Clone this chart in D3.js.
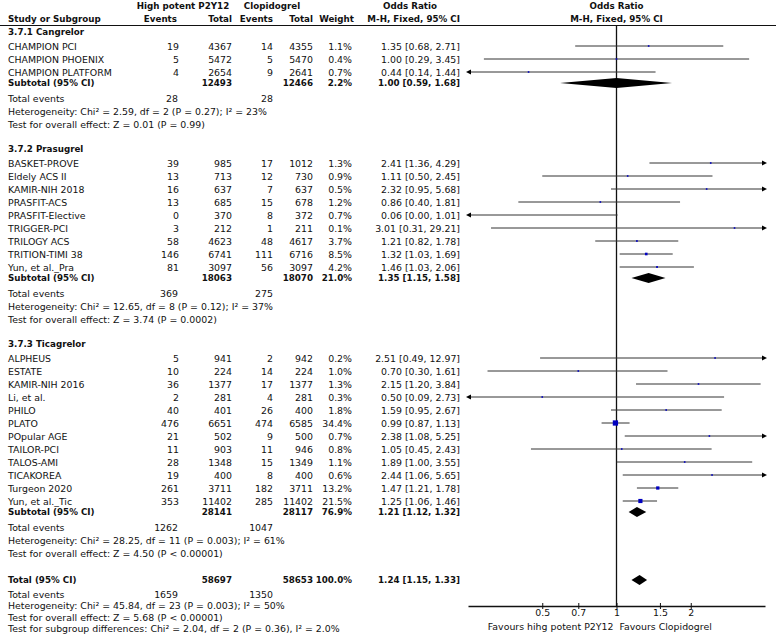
<!DOCTYPE html>
<html><head><meta charset="utf-8">
<script src="https://cdn.jsdelivr.net/npm/d3@7"></script>
<style>
body{margin:0;background:#fff}
svg{display:block}
text{font-family:"DejaVu Sans",sans-serif;font-size:9.4px;fill:#111}
.b{font-weight:bold}
</style>
</head><body>
<svg id="chart" width="776" height="639"></svg>
<script>
// ---------- data ----------
const groupTitles = ["3.7.1 Cangrelor", "3.7.2 Prasugrel", "3.7.3 Ticagrelor"];

const studyNames = ["CHAMPION PCI","CHAMPION PHOENIX","CHAMPION PLATFORM",
  "BASKET-PROVE","Eldely ACS II","KAMIR-NIH 2018","PRASFIT-ACS","PRASFIT-Elective","TRIGGER-PCI","TRILOGY ACS","TRITION-TIMI 38","Yun, et al._Pra",
  "ALPHEUS","ESTATE","KAMIR-NIH 2016","Li, et al.","PHILO","PLATO","POpular AGE","TAILOR-PCI","TALOS-AMI","TICAKOREA","Turgeon 2020","Yun, et al._Tic"];
const studyGroup = [0,0,0, 1,1,1,1,1,1,1,1,1, 2,2,2,2,2,2,2,2,2,2,2,2];
const expEvents  = [19,5,4, 39,13,16,13,0,3,58,146,81, 5,10,36,2,40,476,21,11,28,19,261,353];
const expTotal   = [4367,5472,2654, 985,713,637,685,370,212,4623,6741,3097, 941,224,1377,281,401,6651,502,903,1348,400,3711,11402];
const ctrlEvents = [14,5,9, 17,12,7,15,8,1,48,111,56, 2,14,17,4,26,474,9,11,15,8,182,285];
const ctrlTotal  = [4355,5470,2641, 1012,730,637,678,372,211,4617,6716,3097, 942,224,1377,281,400,6585,500,946,1349,400,3711,11402];
const weights    = [1.1,0.4,0.7, 1.3,0.9,0.5,1.2,0.7,0.1,3.7,8.5,4.2, 0.2,1.0,1.3,0.3,1.8,34.4,0.7,0.8,1.1,0.6,13.2,21.5];
const oddsRatio  = [1.35,1.00,0.44, 2.41,1.11,2.32,0.86,0.06,3.01,1.21,1.32,1.46, 2.51,0.70,2.15,0.50,1.59,0.99,2.38,1.05,1.89,2.44,1.47,1.25];
const ciLow      = [0.68,0.29,0.14, 1.36,0.50,0.95,0.40,0.00,0.31,0.82,1.03,1.03, 0.49,0.30,1.20,0.09,0.95,0.87,1.08,0.45,1.00,1.06,1.21,1.06];
const ciHigh     = [2.71,3.45,1.44, 4.29,2.45,5.68,1.81,1.01,29.21,1.78,1.69,2.06, 12.97,1.61,3.84,2.73,2.67,1.13,5.25,2.43,3.55,5.65,1.78,1.46];

const subExpTotal   = [12493, 18063, 28141];
const subCtrlTotal  = [12466, 18070, 28117];
const subWeight     = [2.2, 21.0, 76.9];
const subOR         = [1.00, 1.35, 1.21];
const subLow        = [0.59, 1.15, 1.12];
const subHigh       = [1.68, 1.58, 1.32];
const subExpEvents  = [28, 369, 1262];
const subCtrlEvents = [28, 275, 1047];
const subHet = ["Heterogeneity: Chi² = 2.59, df = 2 (P = 0.27); I² = 23%",
                "Heterogeneity: Chi² = 12.65, df = 8 (P = 0.12); I² = 37%",
                "Heterogeneity: Chi² = 28.25, df = 11 (P = 0.003); I² = 61%"];
const subEffect = ["Test for overall effect: Z = 0.01 (P = 0.99)",
                   "Test for overall effect: Z = 3.74 (P = 0.0002)",
                   "Test for overall effect: Z = 4.50 (P < 0.00001)"];

const totalValues = {expTotal:58697, ctrlTotal:58653, weight:100.0, or:1.24, lo:1.15, hi:1.33, expEvents:1659, ctrlEvents:1350};
const totalHet = "Heterogeneity: Chi² = 45.84, df = 23 (P = 0.003); I² = 50%";
const totalEffect = "Test for overall effect: Z = 5.68 (P < 0.00001)";
const subgroupDiff = "Test for subgroup differences: Chi² = 2.04, df = 2 (P = 0.36), I² = 2.0%";

const axisTicks = [0.5, 0.7, 1, 1.5, 2];
const axisDomain = [0.25, 4];
const favourLeft = "Favours hihg potent P2Y12";
const favourRight = "Favours Clopidogrel";

// ---------- layout ----------
const svg = d3.select("#chart");
const W = 776, H = 639;
const x = d3.scaleLog().domain(axisDomain).range([468, 765]);
const colX = {name:8, expEv:179, expTot:232, ctrlEv:273, ctrlTot:313, weight:352, orText:460};
const axisY = 606;
const boldScale = 0.93;

const gaps = {"test>group":25,"group>study":14,"study>study":13,"study>subtotal":11,"subtotal>events":15,
  "events>het":13,"het>test":13,"test>total":27,"total>oevents":14.5,"oevents>ohet":11.3,"ohet>otest":11.2,"otest>subgroup":11};
const rows = [];
let yCur = 32, prev = null;
function add(type, d){ if(prev) yCur += gaps[prev+">"+type]; rows.push(Object.assign({type, y:yCur}, d)); prev = type; }
groupTitles.forEach((g, gi) => {
  add("group", {label:g});
  studyNames.forEach((s, i) => { if (studyGroup[i] === gi) add("study", {i}); });
  add("subtotal", {gi});
  add("events", {gi});
  add("het", {gi});
  add("test", {gi});
});
add("total", {});
add("oevents", {});
add("ohet", {});
add("otest", {});
add("subgroup", {});

const fmtOR = (o,l,h) => `${o.toFixed(2)} [${l.toFixed(2)}, ${h.toFixed(2)}]`;
const gT = svg.append("g");
function txt(xp, yp, s, anchor, bold){
  if (bold) {
    gT.append("g").attr("transform", `translate(${xp},${yp}) scale(${boldScale},1)`)
      .append("text").attr("x",0).attr("y",0).attr("dominant-baseline","central")
      .attr("text-anchor", anchor||"start").attr("class","b").text(s);
  } else {
    gT.append("text").attr("x", xp).attr("y", yp).attr("dominant-baseline","central")
      .attr("text-anchor", anchor||"start").text(s);
  }
}

// headers
txt(183, 5.5, "High potent P2Y12", "middle", true);
txt(272, 5.5, "Clopidogrel", "middle", true);
txt(410, 5.5, "Odds Ratio", "middle", true);
txt(x(1), 5.5, "Odds Ratio", "middle", true);
txt(colX.name, 19, "Study or Subgroup", "start", true);
txt(colX.expEv-2, 19, "Events", "end", true);
txt(colX.expTot, 19, "Total", "end", true);
txt(colX.ctrlEv, 19, "Events", "end", true);
txt(colX.ctrlTot, 19, "Total", "end", true);
txt(colX.weight+2, 19, "Weight", "end", true);
txt(colX.orText, 19, "M-H, Fixed, 95% CI", "end", true);
txt(x(1), 19, "M-H, Fixed, 95% CI", "middle", true);

svg.append("line").attr("x1",0).attr("x2",W).attr("y1",25.5).attr("y2",25.5).attr("stroke","#111").attr("stroke-width",1);

// null line
svg.append("line").attr("x1",x(1)).attr("x2",x(1)).attr("y1",25.5).attr("y2",axisY).attr("stroke","#111").attr("stroke-width",1.3);

const gM = svg.append("g");
function diamond(o,l,h,y){
  const pts = [[x(l),y],[x(o),y-5],[x(h),y],[x(o),y+5]];
  gM.append("path").attr("d","M"+pts.join("L")+"Z").attr("fill","#000");
}
const [xmin, xmax] = x.range();

rows.forEach(r => {
  const y = r.y;
  switch(r.type){
    case "group": txt(colX.name, y, r.label, "start", true); break;
    case "study": {
      const i = r.i;
      txt(colX.name, y, studyNames[i]);
      txt(colX.expEv, y, expEvents[i], "end");
      txt(colX.expTot, y, expTotal[i], "end");
      txt(colX.ctrlEv, y, ctrlEvents[i], "end");
      txt(colX.ctrlTot, y, ctrlTotal[i], "end");
      txt(colX.weight, y, weights[i].toFixed(1)+"%", "end");
      txt(colX.orText, y, fmtOR(oddsRatio[i], ciLow[i], ciHigh[i]), "end");
      const lo = ciLow[i] < axisDomain[0] ? xmin : x(ciLow[i]);
      const hi = ciHigh[i] > axisDomain[1] ? xmax : x(ciHigh[i]);
      gM.append("line").attr("x1",lo).attr("x2",hi).attr("y1",y).attr("y2",y).attr("stroke","#333").attr("stroke-width",1);
      if (ciLow[i] < axisDomain[0]) gM.append("path").attr("d",`M${xmin-2},${y}L${xmin+3},${y-2.5}L${xmin+3},${y+2.5}Z`).attr("fill","#000");
      if (ciHigh[i] > axisDomain[1]) gM.append("path").attr("d",`M${xmax+2},${y}L${xmax-3},${y-2.5}L${xmax-3},${y+2.5}Z`).attr("fill","#000");
      if (oddsRatio[i] >= axisDomain[0] && oddsRatio[i] <= axisDomain[1]) {
        const s = Math.max(1.6, 0.9*Math.sqrt(weights[i]));
        gM.append("rect").attr("x",x(oddsRatio[i])-s/2).attr("y",y-s/2).attr("width",s).attr("height",s).attr("fill","#0000c0");
      }
      break;
    }
    case "subtotal": {
      const g = r.gi;
      txt(colX.name, y, "Subtotal (95% CI)", "start", true);
      txt(colX.expTot, y, subExpTotal[g], "end", true);
      txt(colX.ctrlTot, y, subCtrlTotal[g], "end", true);
      txt(colX.weight, y, subWeight[g].toFixed(1)+"%", "end", true);
      txt(colX.orText, y, fmtOR(subOR[g], subLow[g], subHigh[g]), "end", true);
      diamond(subOR[g], subLow[g], subHigh[g], y);
      break;
    }
    case "events":
      txt(colX.name, y, "Total events");
      txt(colX.expEv-1, y, subExpEvents[r.gi], "end");
      txt(colX.ctrlEv, y, subCtrlEvents[r.gi], "end");
      break;
    case "het": txt(colX.name, y, subHet[r.gi]); break;
    case "test": txt(colX.name, y, subEffect[r.gi]); break;
    case "total":
      txt(colX.name, y, "Total (95% CI)", "start", true);
      txt(colX.expTot, y, totalValues.expTotal, "end", true);
      txt(colX.ctrlTot, y, totalValues.ctrlTotal, "end", true);
      txt(colX.weight, y, totalValues.weight.toFixed(1)+"%", "end", true);
      txt(colX.orText, y, fmtOR(totalValues.or, totalValues.lo, totalValues.hi), "end", true);
      diamond(totalValues.or, totalValues.lo, totalValues.hi, y);
      break;
    case "oevents":
      txt(colX.name, y, "Total events");
      txt(colX.expEv-1, y, totalValues.expEvents, "end");
      txt(colX.ctrlEv, y, totalValues.ctrlEvents, "end");
      break;
    case "ohet": txt(colX.name, y, totalHet); break;
    case "otest": txt(colX.name, y, totalEffect); break;
    case "subgroup": txt(colX.name, y, subgroupDiff); break;
  }
});

// axis
const axis = d3.axisBottom(x).tickValues(axisTicks).tickFormat(d3.format("")).tickSizeInner(3).tickSizeOuter(0).tickPadding(2);
const gA = svg.append("g").attr("transform",`translate(0,${axisY})`).call(axis);
gA.select(".domain").attr("stroke","#111").attr("stroke-width",1.6);
gA.selectAll(".tick line").attr("y1",-3).attr("y2",3).attr("stroke","#111");
gA.selectAll(".tick text").attr("font-family","DejaVu Sans, sans-serif").attr("font-size","9.4px").attr("fill","#111").attr("dy","0.5em");

txt(x(1)-3, 626, favourLeft, "end");
txt(x(1)+3, 626, favourRight, "start");
</script>
</body></html>
